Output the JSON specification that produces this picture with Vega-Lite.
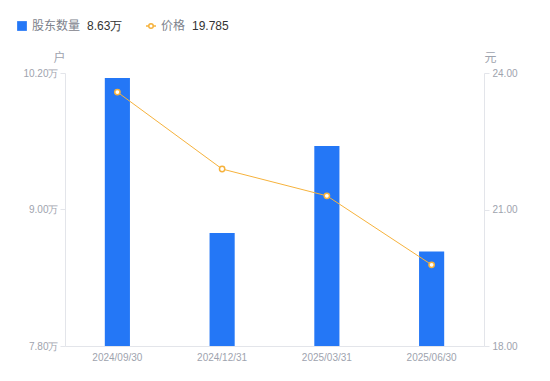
{
  "$schema": "https://vega.github.io/schema/vega-lite/v6.json",
  "width": 419,
  "height": 273,
  "autosize": {"type": "none"},
  "padding": {"left": 65, "top": 73, "right": 66, "bottom": 35},
  "background": "white",
  "config": {
    "view": {"stroke": null},
    "font": "Liberation Sans",
    "axis": {
      "domainColor": "#e3e5ea",
      "tickColor": "#e3e5ea",
      "labelColor": "#9ea3ae",
      "labelFontSize": 10,
      "labelFont": "Liberation Sans",
      "grid": false,
      "titleFont": "Noto Sans CJK SC",
      "titleFontWeight": "normal",
      "titleFontSize": 12,
      "titleColor": "#9ea3ae"
    },
    "legend": {
      "labelFont": "Noto Sans CJK SC",
      "labelFontSize": 12,
      "labelColor": "#7d828c",
      "titleFont": "Liberation Sans",
      "titleFontSize": 12,
      "titleFontWeight": "normal",
      "titleColor": "#333333",
      "titleOrient": "right",
      "titlePadding": 7,
      "padding": 0
    }
  },
  "data": {
    "values": [
      {"date": "2024/09/30", "holders": 10.156, "price": 23.58, "s1": "股东数量", "s2": "价格"},
      {"date": "2024/12/31", "holders": 8.793, "price": 21.89, "s1": "股东数量", "s2": "价格"},
      {"date": "2025/03/31", "holders": 9.558, "price": 21.3, "s1": "股东数量", "s2": "价格"},
      {"date": "2025/06/30", "holders": 8.63, "price": 19.785, "s1": "股东数量", "s2": "价格"}
    ]
  },
  "encoding": {
    "x": {
      "field": "date",
      "type": "ordinal",
      "scale": {"paddingInner": 0.76, "paddingOuter": 0.38},
      "axis": {"title": null, "labelAngle": 0, "ticks": false, "labelPadding": 6}
    }
  },
  "layer": [
    {
      "mark": {"type": "bar", "color": "#2477f6"},
      "encoding": {
        "y": {
          "field": "holders",
          "type": "quantitative",
          "scale": {"domain": [7.8, 10.2], "zero": false, "nice": false},
          "axis": {
            "orient": "left",
            "values": [7.8, 9.0, 10.2],
            "labelExpr": "format(datum.value, '.2f') + '万'",
            "tickSize": 5,
            "labelPadding": 2,
            "title": "户",
            "titleAngle": 0,
            "titleAlign": "center",
            "titleBaseline": "middle",
            "titleX": -6,
            "titleY": -16
          }
        },
        "y2": {"datum": 7.8},
        "fill": {
          "field": "s1",
          "type": "nominal",
          "scale": {"range": ["#2477f6"]},
          "legend": {
            "orient": "none",
            "legendX": -49,
            "legendY": -53,
            "title": "8.63万",
            "symbolType": "square",
            "symbolSize": 95
          }
        }
      }
    },
    {
      "mark": {
        "type": "line",
        "strokeWidth": 1,
        "point": {"filled": false, "fill": "white", "size": 28, "strokeWidth": 1.5}
      },
      "encoding": {
        "y": {
          "field": "price",
          "type": "quantitative",
          "scale": {"domain": [18, 24], "zero": false, "nice": false},
          "axis": {
            "orient": "right",
            "values": [18, 21, 24],
            "format": ".2f",
            "tickSize": 5,
            "labelPadding": 3,
            "title": "元",
            "titleAngle": 0,
            "titleAlign": "center",
            "titleBaseline": "middle",
            "titleX": 6,
            "titleY": -16
          }
        },
        "stroke": {
          "field": "s2",
          "type": "nominal",
          "scale": {"range": ["#f6b23c"]},
          "legend": {
            "orient": "none",
            "legendX": 80,
            "legendY": -53,
            "title": "19.785",
            "symbolType": "M-1,0L-0.45,0M0.45,0A0.45,0.45 0 1,1 -0.45,0A0.45,0.45 0 1,1 0.45,0M0.45,0L1,0",
            "symbolSize": 100,
            "symbolFillColor": "white",
            "symbolStrokeWidth": 1.5
          }
        }
      }
    }
  ],
  "resolve": {"scale": {"y": "independent"}}
}
